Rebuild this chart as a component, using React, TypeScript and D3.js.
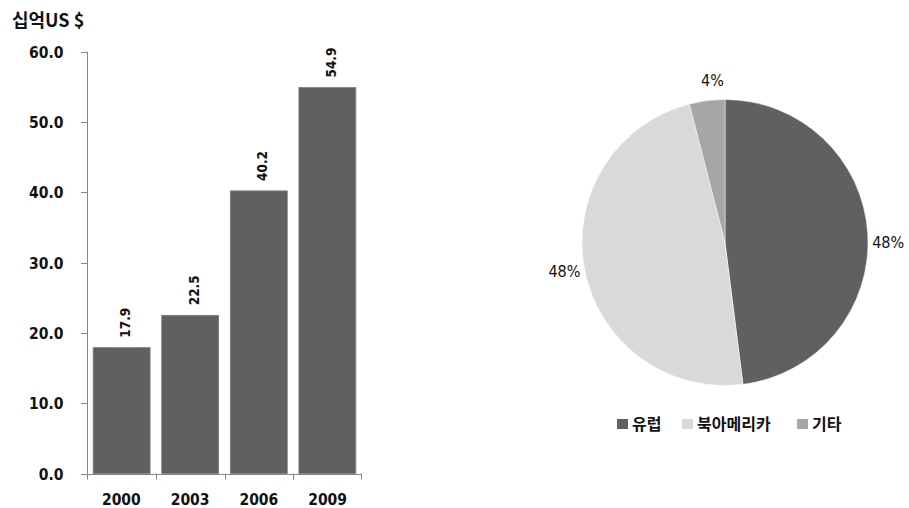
import React from "react";
import * as d3 from "d3";

const years = ["2000", "2003", "2006", "2009"];
const values = [17.9, 22.5, 40.2, 54.9];
const yTicks = [0, 10, 20, 30, 40, 50, 60];

const regions = ["유럽", "북아메리카", "기타"];
const shares = [48, 48, 4];
const pieColors = ["#606060", "#d9d9d9", "#a6a6a6"];

const W = 909;
const H = 508;

export default function App() {
  const x = d3.scaleBand<string>().domain(years).range([87, 362]).paddingInner(0.17).paddingOuter(0.09);
  const xTick = d3.scaleBand<string>().domain(years).range([87, 362]);
  const y = d3.scaleLinear().domain([0, 60]).range([473.5, 51.7]);

  const cx = 725, cy = 242.5, R = 143;
  const pie = d3.pie<number>().sort(null).value((d) => d)(shares);
  const arc = d3.arc<d3.PieArcDatum<number>>().innerRadius(0).outerRadius(R);
  const labelArc = d3.arc<d3.PieArcDatum<number>>().innerRadius(R + 20.5).outerRadius(R + 20.5);
  // small best-fit nudges for the outside-end labels
  const nudge: [number, number][] = [[0, 10], [0, -1.5], [8, 0]];

  const cond = { fontFamily: "'DejaVu Sans Condensed', 'DejaVu Sans', sans-serif", fontWeight: 700 } as const;
  const condReg = { fontFamily: "'DejaVu Sans Condensed', 'DejaVu Sans', sans-serif", fontWeight: 400 } as const;
  const kr = { fontFamily: "'Noto Sans CJK KR', sans-serif", fontWeight: 700 } as const;

  const legendX = [617, 682, 797];

  return (
    <svg width={W} height={H} style={{ position: "absolute", left: 0, top: 0, background: "#fff" }}>
      <text x={12} y={27} fontSize={18} fill="#111" style={kr}>
        십억US $
      </text>
      {/* y axis */}
      <line x1={87.5} x2={87.5} y1={y(60)} y2={y(0)} stroke="#868686" strokeWidth={1} />
      {yTicks.map((t) => (
        <g key={t}>
          <line x1={81} x2={87.5} y1={Math.round(y(t)) + 0.5} y2={Math.round(y(t)) + 0.5} stroke="#868686" />
          <text x={63.5} y={y(t) + 6} textAnchor="end" fontSize={15.5} fill="#111" style={cond}>
            {t.toFixed(1)}
          </text>
        </g>
      ))}
      {/* x axis */}
      <line x1={87} x2={362} y1={Math.round(y(0)) + 0.5} y2={Math.round(y(0)) + 0.5} stroke="#868686" />
      {years.map((yr) => (
        <line key={"t" + yr} x1={Math.round(xTick(yr)!) + 0.5} x2={Math.round(xTick(yr)!) + 0.5} y1={y(0)} y2={y(0) + 6} stroke="#868686" />
      ))}
      <line x1={361.5} x2={361.5} y1={y(0)} y2={y(0) + 6} stroke="#868686" />
      {years.map((yr) => (
        <text key={"l" + yr} x={xTick(yr)! + xTick.bandwidth() / 2} y={504.5} textAnchor="middle" fontSize={15.5} fill="#111" style={cond}>
          {yr}
        </text>
      ))}
      {/* bars */}
      {values.map((v, i) => (
        <g key={years[i]}>
          <rect x={x(years[i])!} y={y(v)} width={x.bandwidth()} height={y(0) - y(v)} fill="#606060" stroke="#7a7a7a" strokeWidth={0.8} />
          <text
            transform={`translate(${x(years[i])! + x.bandwidth() / 2 + 8.5},${y(v) - 10}) rotate(-90)`}
            fontSize={13.5}
            fill="#111"
            style={cond}
          >
            {v.toFixed(1)}
          </text>
        </g>
      ))}
      {/* pie */}
      <g transform={`translate(${cx},${cy})`}>
        {pie.map((p, i) => (
          <path key={regions[i]} d={arc(p)!} fill={pieColors[i]} stroke="#fff" strokeWidth={0.5} />
        ))}
        {pie.map((p, i) => {
          const [lx, ly] = labelArc.centroid(p);
          return (
            <text key={"p" + i} x={lx + nudge[i][0]} y={ly + nudge[i][1] + 5.8} textAnchor="middle" fontSize={16} fill="#111" style={condReg}>
              {p.data}%
            </text>
          );
        })}
      </g>
      {/* legend */}
      {regions.map((r, i) => (
        <g key={"lg" + r}>
          <rect x={legendX[i]} y={419} width={11} height={10} fill={pieColors[i]} />
          <text x={legendX[i] + 15} y={429.5} fontSize={16} fill="#111" style={kr}>
            {r}
          </text>
        </g>
      ))}
    </svg>
  );
}
